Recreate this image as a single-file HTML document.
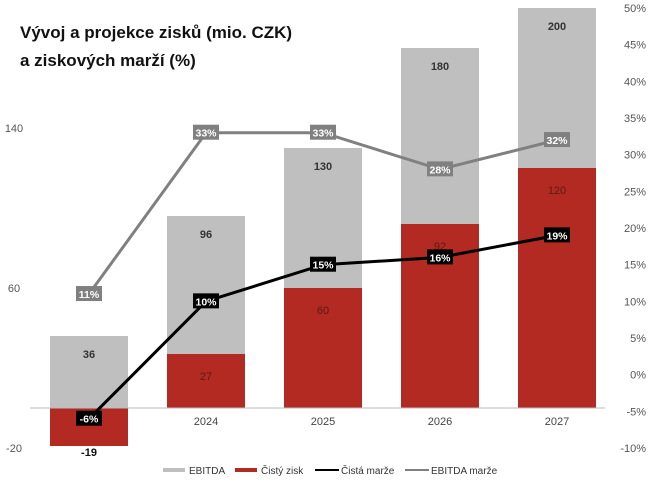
<!DOCTYPE html>
<html><head><meta charset="utf-8"><style>
body{margin:0;background:#fff;font-family:"Liberation Sans",sans-serif;}
svg text{font-family:"Liberation Sans",sans-serif;}
</style></head><body>
<svg width="649" height="481">
<text x="20" y="38" font-size="17" font-weight="bold" fill="#111">Vývoj a projekce zisků (mio. CZK)</text>
<text x="20" y="66" font-size="17" font-weight="bold" fill="#111">a ziskových marží (%)</text>
<g id="g"></g>
</svg>
<script>
const categories=["2023","2024","2025","2026","2027"];
const ebitda=[36,96,130,180,200];
const netProfit=[-19,27,60,92,120];
const netMargin=[-6,10,15,16,19];
const ebitdaMargin=[11,33,33,28,32];
const leftTicks=[-20,60,140];
const rightTicks=[-10,-5,0,5,10,15,20,25,30,35,40,45,50];
const NS="http://www.w3.org/2000/svg";
const g=document.getElementById('g');
function el(t,a,txt){const e=document.createElementNS(NS,t);for(const k in a)e.setAttribute(k,a[k]);if(txt!==undefined)e.textContent=txt;g.appendChild(e);return e;}
const yL=v=>408-v*2;
const yR=p=>374.7-p*7.333;
const xC=i=>89+i*117;
const bw=78;
leftTicks.forEach(v=>{const t=el('text',{x:14,y:yL(v)+4,'font-size':11,fill:'#555','text-anchor':'middle'},v);

});
rightTicks.forEach(v=>{const t=el('text',{x:646,y:yR(v)+4,'font-size':11,fill:'#555','text-anchor':'end'},v+'%');

});
categories.forEach((c,i)=>{
const x=xC(i)-bw/2;
const b=el('rect',{x:x,y:yL(ebitda[i]),width:bw,height:ebitda[i]*2,fill:'#bfbfbf'});


const n=netProfit[i];
const r=el('rect',{x:x,y:n>=0?yL(n):yL(0),width:bw,height:Math.abs(n)*2,fill:'#b22a22'});


const t1=el('text',{x:xC(i),y:yL(ebitda[i])+22,'font-size':11,'font-weight':'bold',fill:'#333','text-anchor':'middle'},ebitda[i]);


const t2=el('text',{x:xC(i),y:n>=0?yL(n)+26:yL(n)+10,'font-size':11,'font-weight':n<0?'bold':'normal',fill:n<0?'#111':'#5a1a14','text-anchor':'middle'},n);


const t3=el('text',{x:xC(i),y:425,'font-size':11,fill:'#444','text-anchor':'middle'},c);


});
const ax=el('line',{x1:30,x2:605,y1:408,y2:408,stroke:'#bbb','stroke-width':1});


function line(arr,color,name,bg){
const p=el('polyline',{points:arr.map((v,i)=>xC(i)+','+yR(v)).join(' '),fill:'none',stroke:color,'stroke-width':3});


arr.forEach((v,i)=>{
const r=el('rect',{x:xC(i)-13,y:yR(v)-8,width:26,height:15,fill:bg});


const t=el('text',{x:xC(i),y:yR(v)+4,'font-size':10.5,'font-weight':'bold',fill:'#fff','text-anchor':'middle'},v+'%');


});}
line(ebitdaMargin,'#808080','ebitda-margin-line','#808080');
line(netMargin,'#000','net-margin-line','#000');
const leg=[['EBITDA','#bfbfbf',163,'rect'],['Čistý zisk','#b22a22',235,'rect'],['Čistá marže','#000',315,'line'],['EBITDA marže','#808080',405,'line']];
leg.forEach(l=>{
const s=l[3]==='rect'?el('rect',{x:l[2],y:468,width:22,height:4,fill:l[1]}):el('line',{x1:l[2],x2:l[2]+24,y1:470,y2:470,stroke:l[1],'stroke-width':2});


const t=el('text',{x:l[2]+(l[3]==='rect'?26:26),y:474,'font-size':10,fill:'#333'},l[0]);


});
</script>
</body></html>
